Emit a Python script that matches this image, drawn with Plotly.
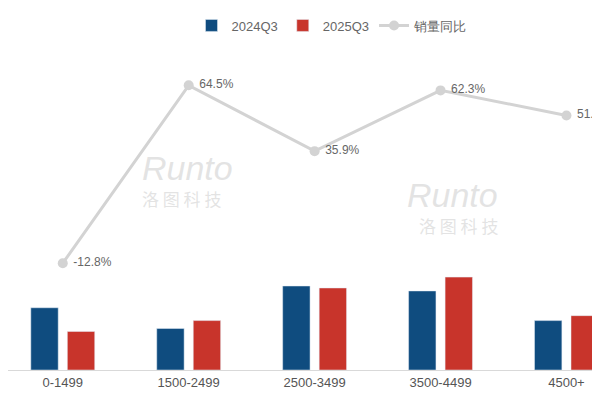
import plotly.graph_objects as go

categories = ['0-1499', '1500-2499', '2500-3499', '3500-4499', '4500+']
sales_2024q3 = [63, 42, 85, 80, 50]
sales_2025q3 = [39, 50, 83, 94, 55]
yoy_pct = [-12.8, 64.5, 35.9, 62.3, 51.4]

BLUE = '#0f4c7f'
RED = '#c8342b'
GREY_LINE = '#d3d3d3'

fig = go.Figure()
fig.add_trace(go.Bar(x=categories, y=sales_2024q3, name='2024Q3', marker_color=BLUE))
fig.add_trace(go.Bar(x=categories, y=sales_2025q3, name='2025Q3', marker_color=RED))
fig.add_trace(go.Scatter(
    x=categories, y=yoy_pct, name='销量同比', yaxis='y2',
    mode='lines+markers+text',
    line=dict(color=GREY_LINE, width=3),
    marker=dict(color=GREY_LINE, size=10),
    text=[f' {v}%' for v in yoy_pct], textposition='middle right',
    textfont=dict(color='#666666', size=12),
))

# faint watermark
for xc, yc in ((0.22, 0.6), (0.82, 0.52)):
    fig.add_annotation(xref='paper', yref='paper', x=xc, y=yc, text='<i>Runto</i>',
                       showarrow=False, font=dict(size=34, color='rgba(200,200,200,0.5)'))
    fig.add_annotation(xref='paper', yref='paper', x=xc, y=yc - 0.09, text='洛 图 科 技',
                       showarrow=False, font=dict(size=17, color='rgba(200,200,200,0.5)',
                                                   family='Noto Sans CJK SC'))

fig.update_layout(
    width=600, height=400,
    margin=dict(l=0, r=0, t=26, b=38),
    paper_bgcolor='white', plot_bgcolor='white',
    font=dict(family='Liberation Sans, Arial', color='#555555', size=13),
    barmode='group', bargap=0.42, bargroupgap=0.25,
    showlegend=True,
    legend=dict(orientation='h', x=0.54, xanchor='center', y=1.07, yanchor='top',
                font=dict(size=13, color='#666666')),
    xaxis=dict(range=[-0.435, 4.33], showline=True, linecolor='#d9d9d9',
               ticks='', tickfont=dict(size=13, color='#555555')),
    yaxis=dict(range=[0, 340], visible=False),
    yaxis2=dict(range=[-59.2, 86.8], overlaying='y', visible=False),
)

fig.write_html('out.html')
